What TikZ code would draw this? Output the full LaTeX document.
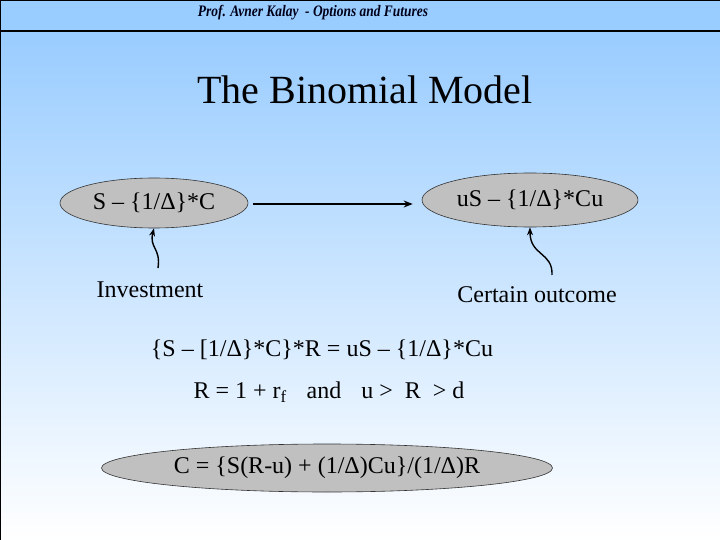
\documentclass[tikz,border=0pt]{standalone}
\usepackage{fontspec}
\setmainfont{Liberation Serif}
\usetikzlibrary{shapes.geometric,arrows.meta}
\definecolor{hdr}{RGB}{153,204,255}
\definecolor{ellfill}{RGB}{192,192,192}
\tikzset{
  oval/.style={ellipse, draw=black!80, line width=0.6pt, fill=ellfill, inner sep=0pt, font=\fontsize{24}{28}\selectfont},
  lbl/.style={inner sep=0pt, font=\fontsize{24}{28}\selectfont},
  conn/.style={line width=1.6pt, -{Stealth[length=9pt,width=7pt]}},
  wavy/.style={line width=1.4pt, -{Stealth[length=8pt,width=6pt]}}
}
\begin{document}
\begin{tikzpicture}[x=1pt,y=-1pt]
\useasboundingbox (0,0) rectangle (720,540);
% background
\shade[top color=hdr, bottom color=white] (0,31) rectangle (720,540);
\fill[hdr] (0,0) rectangle (720,31);
\draw[line width=1.2pt] (0,31) -- (720,31);
\draw[line width=1.5pt] (720,0.7) -- (0.7,0.7) -- (0.7,540);
% header and title
\node[inner sep=0pt, font=\fontsize{16}{18}\selectfont\bfseries\itshape, text=black!90!blue] (hdrtxt) at (313,13) {\scalebox{0.84}[1]{Prof. Avner Kalay\ \ - Options and Futures}};
\node[inner sep=0pt, font=\fontsize{40}{46}\selectfont] (title) at (365,90) {The Binomial Model};
% ovals
\node[oval, minimum width=188pt, minimum height=50pt] (e1) at (154,203) {S – \{1/Δ\}*C};
\node[oval, minimum width=216pt, minimum height=54pt] (e2) at (530,200) {uS – \{1/Δ\}*Cu};
\node[oval, minimum width=451pt, minimum height=48pt] (e3) at (327,468) {C = \{S(R-u) + (1/Δ)Cu\}/(1/Δ)R};
\draw[conn, shorten <=5pt, shorten >=9pt] (e1.east |- 0,204) -- (e2.west |- 0,204);
% labels
\node[lbl] (inv) at (150,290) {Investment};
\node[lbl] (cert) at (537,295) {Certain outcome};
\coordinate (invtop) at (158,268);
\coordinate (certtop) at (552,275);
\draw[wavy] (invtop) .. controls (161,248) and (149,248) .. (e1.south);
\draw[wavy] (certtop) .. controls (553,252) and (530,256) .. (e2.south);
% equations
\node[lbl] (eq1) at (322,350) {\{S – [1/Δ\}*C\}*R = uS – \{1/Δ\}*Cu};
\node[lbl] (eq2) at (329,392) {R = 1 + r\textsubscript{f}\hspace{20pt}and\hspace{20pt}u >\hspace{12pt}R\hspace{12pt}> d};
\end{tikzpicture}
\end{document}
